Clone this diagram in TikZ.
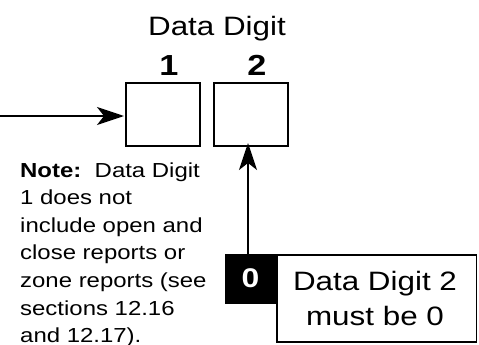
\documentclass[tikz,border=0pt]{standalone}
\usepackage{fontspec}
\setmainfont{Liberation Sans}
\newfontfamily\wide{Liberation Sans}[FakeStretch=1.18]
\usetikzlibrary{arrows.meta}
\tikzset{
  digitbox/.style={draw=black, line width=1.8pt},
  conn/.style={line width=1.8pt, -{Stealth[length=27pt, width=18pt, inset=7pt]}},
  lbl/.style={inner sep=0pt, anchor=base},
  notetxt/.style={inner sep=0pt, anchor=base west, font=\wide\fontsize{20.3}{24}\selectfont},
}
\begin{document}
\begin{tikzpicture}[x=1pt,y=-1pt]
\useasboundingbox (0,0) rectangle (479,345);
% title
\node[lbl, font=\wide\fontsize{26.6}{30}\selectfont] (title) at (217,36) {Data Digit};
\node[lbl, font=\wide\bfseries\fontsize{29}{32}\selectfont] (n1) at (169,75) {1};
\node[lbl, font=\wide\bfseries\fontsize{29}{32}\selectfont] (n2) at (257,75) {2};
% digit boxes
\draw[digitbox] (126,83) rectangle (200,146);
\coordinate (b1w) at (126,116);
\draw[digitbox] (214,83) rectangle (288,146);
\coordinate (b2s) at (248,146);
% left arrow
\coordinate (lstart) at (0,116);
\draw[conn] (lstart) -- ([xshift=-2pt]b1w);
% black box with 0
\fill[black] (224.5,253.5) rectangle (277,303.5);
\node[lbl, text=white, font=\wide\bfseries\fontsize{27}{30}\selectfont] (zero) at (250.5,287) {0};
\coordinate (bk) at (248,253.5);
\draw[conn] (bk) -- ([yshift=3pt]b2s);
% white box
\draw[digitbox, fill=white] (277,255) rectangle (476.5,342);
\node[lbl, font=\wide\fontsize{26.6}{30}\selectfont] (m1) at (375,290) {Data Digit 2};
\node[lbl, font=\wide\fontsize{26.6}{30}\selectfont] (m2) at (375,325) {must be 0};
% note
\node[notetxt] (t1) at (20,177) {\textbf{Note:}\ \ Data Digit};
\node[notetxt] (t2) at (20,204.6) {1 does not};
\node[notetxt] (t3) at (20,232.2) {include open and};
\node[notetxt] (t4) at (20,259.8) {close reports or};
\node[notetxt] (t5) at (20,287.4) {zone reports (see};
\node[notetxt] (t6) at (20,315) {sections 12.16};
\node[notetxt] (t7) at (20,342.6) {and 12.17).};
\end{tikzpicture}
\end{document}
